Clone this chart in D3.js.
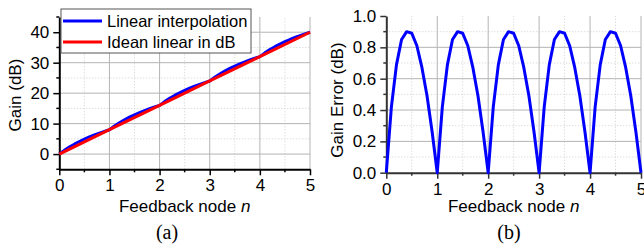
<!DOCTYPE html>
<html>
<head>
<meta charset="utf-8">
<script src="https://cdn.jsdelivr.net/npm/d3@7"></script>
<style>
  body { margin: 0; background: #fff; }
  svg { display: block; }
  text { font-family: "Liberation Sans", Arial, sans-serif; fill: #000; }
</style>
</head>
<body>
<svg id="chart" width="644" height="246"></svg>
<script>
// feedback node positions (shared by both panels)
var nodes = [0,0.1,0.2,0.3,0.4,0.5,0.6,0.7,0.8,0.9,
             1,1.1,1.2,1.3,1.4,1.5,1.6,1.7,1.8,1.9,
             2,2.1,2.2,2.3,2.4,2.5,2.6,2.7,2.8,2.9,
             3,3.1,3.2,3.3,3.4,3.5,3.6,3.7,3.8,3.9,
             4,4.1,4.2,4.3,4.4,4.5,4.6,4.7,4.8,4.9,5];

// (a) gain with linear interpolation, dB
var gainInterp = [0,1.22,2.29,3.25,4.11,4.89,5.61,6.27,6.89,7.46,
                  8,9.22,10.29,11.25,12.11,12.89,13.61,14.27,14.89,15.46,
                  16,17.22,18.29,19.25,20.11,20.89,21.61,22.27,22.89,23.46,
                  24,25.22,26.29,27.25,28.11,28.89,29.61,30.27,30.89,31.46,
                  32,33.22,34.29,35.25,36.11,36.89,37.61,38.27,38.89,39.46,40];

// (a) ideal linear in dB
var idealNodes = [0, 1, 2, 3, 4, 5];
var gainIdeal = [0, 8, 16, 24, 32, 40];

// (b) gain error, dB
var gainError = [0,0.42,0.69,0.85,0.90,0.89,0.81,0.67,0.49,0.26,
                 0,0.42,0.69,0.85,0.90,0.89,0.81,0.67,0.49,0.26,
                 0,0.42,0.69,0.85,0.90,0.89,0.81,0.67,0.49,0.26,
                 0,0.42,0.69,0.85,0.90,0.89,0.81,0.67,0.49,0.26,
                 0,0.42,0.69,0.85,0.90,0.89,0.81,0.67,0.49,0.26,0];

var seriesNames = ["Linear interpolation", "Idean linear in dB"];
var seriesColors = ["#0000ff", "#ff0000"];

var xTicks = [0, 1, 2, 3, 4, 5];
var xMinor = [0.5, 1.5, 2.5, 3.5, 4.5];
var yTicksA = [0, 10, 20, 30, 40];
var yMinorA = [-5, 5, 15, 25, 35, 45];
var yTicksB = [0, 0.2, 0.4, 0.6, 0.8, 1.0];
var yMinorB = [0.1, 0.3, 0.5, 0.7, 0.9];

var svg = d3.select("#chart");

function panel(opt) {
  var x = d3.scaleLinear().domain([0, 5]).range(opt.xr);
  var y = d3.scaleLinear().domain(opt.yd).range(opt.yr);
  var g = svg.append("g");

  // minor grid (dotted)
  g.selectAll(".vminor").data(xMinor).enter().append("line")
    .attr("x1", d => x(d)).attr("x2", d => x(d))
    .attr("y1", opt.yr[0]).attr("y2", opt.yr[1])
    .attr("stroke", "#cfcfcf").attr("stroke-dasharray", "1,2");
  g.selectAll(".hminor").data(opt.yMinor.filter(d => d > opt.yd[0] && d < opt.yd[1])).enter().append("line")
    .attr("x1", opt.xr[0]).attr("x2", opt.xr[1])
    .attr("y1", d => y(d)).attr("y2", d => y(d))
    .attr("stroke", "#cfcfcf").attr("stroke-dasharray", "1,2");
  // major grid
  g.selectAll(".vmajor").data(xTicks.slice(1)).enter().append("line")
    .attr("x1", d => x(d)).attr("x2", d => x(d))
    .attr("y1", opt.yr[0]).attr("y2", opt.yr[1])
    .attr("stroke", "#b4b4b4");
  g.selectAll(".hmajor").data(opt.yGrid).enter().append("line")
    .attr("x1", opt.xr[0]).attr("x2", opt.xr[1])
    .attr("y1", d => y(d)).attr("y2", d => y(d))
    .attr("stroke", "#b4b4b4");

  // axes
  var xa = g.append("g").attr("transform", "translate(0," + opt.yr[0] + ")")
    .call(d3.axisBottom(x).tickValues(xTicks).tickFormat(d3.format("d")).tickSize(6).tickSizeOuter(0).tickPadding(4));
  xa.append("g").selectAll("line").data(xMinor).enter().append("line")
    .attr("x1", d => x(d)).attr("x2", d => x(d)).attr("y1", 0).attr("y2", 3)
    .attr("stroke", opt.axisColor).attr("stroke-width", 1.5);
  var ya = g.append("g").attr("transform", "translate(" + opt.xr[0] + ",0)")
    .call(d3.axisLeft(y).tickValues(opt.yTicks).tickFormat(opt.fmt).tickSize(6).tickSizeOuter(0).tickPadding(4));
  ya.append("g").selectAll("line").data(opt.yMinor).enter().append("line")
    .attr("y1", d => y(d)).attr("y2", d => y(d)).attr("x1", 0).attr("x2", -3)
    .attr("stroke", opt.axisColor).attr("stroke-width", 1.5);
  [xa, ya].forEach(function(a) {
    a.select(".domain").attr("stroke", opt.axisColor).attr("stroke-width", 2);
    a.selectAll(".tick line").attr("stroke", opt.axisColor).attr("stroke-width", 1.5);
    a.selectAll(".tick text").attr("font-size", 17).attr("font-family", "Liberation Sans, Arial, sans-serif");
  });

  // lines
  var line = d3.line().x(d => x(d[0])).y(d => y(d[1]));
  opt.series.forEach(function(s) {
    g.append("path")
      .datum(d3.zip(s.xs, s.ys))
      .attr("d", line)
      .attr("fill", "none")
      .attr("stroke", s.color)
      .attr("stroke-width", 3)
      .attr("stroke-linejoin", "round");
  });

  // titles
  var xt = g.append("text")
    .attr("x", (opt.xr[0] + opt.xr[1]) / 2 + opt.xtOff).attr("y", 212)
    .attr("text-anchor", "middle").attr("font-size", 17);
  xt.append("tspan").text("Feedback node ");
  xt.append("tspan").attr("font-style", "italic").text("n");

  g.append("text")
    .attr("transform", "translate(" + opt.ytx + "," + opt.yty + ") rotate(-90)")
    .attr("text-anchor", "middle").attr("font-size", 17)
    .text(opt.ytitle);

  g.append("text")
    .attr("x", opt.labelX).attr("y", 239)
    .attr("text-anchor", "middle")
    .attr("font-size", 20)
    .style("font-family", "'Liberation Serif', 'Times New Roman', serif")
    .text(opt.label);

  return g;
}

var ga = panel({
  xr: [59.3, 310], yr: [169.3, 17], yd: [-5, 45],
  yTicks: yTicksA, yMinor: yMinorA, yGrid: yTicksA,
  fmt: d3.format("d"), axisColor: "#000",
  series: [
    {xs: nodes, ys: gainInterp, color: seriesColors[0]},
    {xs: idealNodes, ys: gainIdeal, color: seriesColors[1]}
  ],
  ytitle: "Gain (dB)", ytx: 21, yty: 95, xtOff: 0,
  label: "(a)", labelX: 167
});

var gb = panel({
  xr: [386.3, 641], yr: [172.7, 16], yd: [0, 1],
  yTicks: yTicksB, yMinor: yMinorB, yGrid: [0.2, 0.4, 0.6, 0.8],
  fmt: d3.format(".1f"), axisColor: "#333",
  series: [
    {xs: nodes, ys: gainError, color: seriesColors[0]}
  ],
  ytitle: "Gain Error (dB)", ytx: 343, yty: 100, xtOff: 0,
  label: "(b)", labelX: 509
});

// legend for (a)
var legend = svg.append("g");
legend.append("rect")
  .attr("x", 61).attr("y", 9).attr("width", 190).attr("height", 44)
  .attr("fill", "#fff").attr("stroke", "#555").attr("stroke-width", 1);
var li = legend.selectAll(".item").data(seriesNames).enter().append("g")
  .attr("transform", (d, i) => "translate(0," + (21 + i * 21) + ")");
li.append("line")
  .attr("x1", 63).attr("x2", 102).attr("y1", 0).attr("y2", 0)
  .attr("stroke", (d, i) => seriesColors[i]).attr("stroke-width", 3);
li.append("text")
  .attr("x", 107).attr("y", 6)
  .attr("font-size", 16.5)
  .text(d => d);
</script>
</body>
</html>
